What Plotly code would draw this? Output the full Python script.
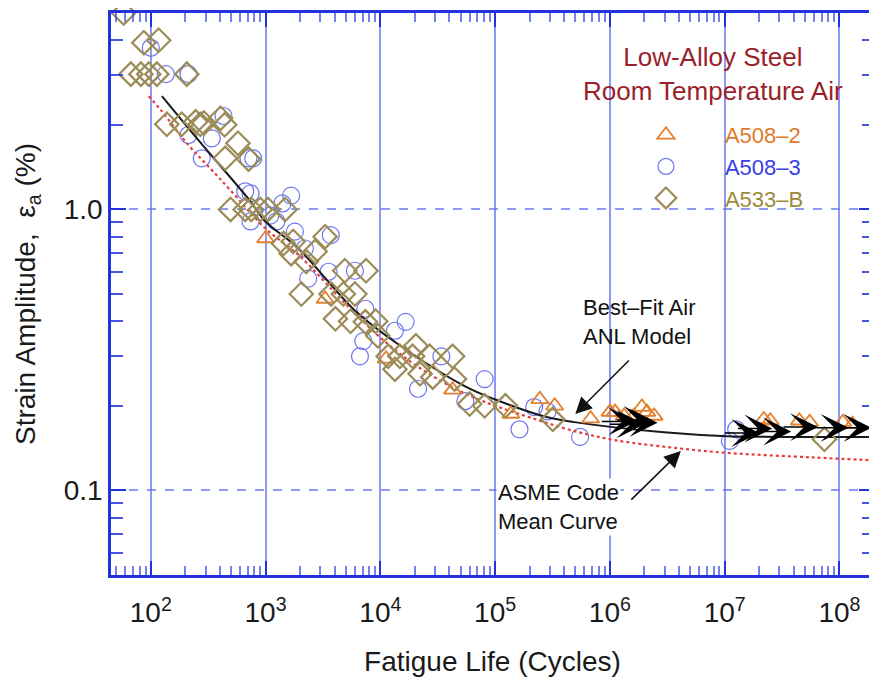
import numpy as np
import plotly.graph_objects as go

# ---------------- data ----------------
# A508-2 (triangles)
N_A5082 = [1000, 3300, 11200, 42600, 137000, 245000, 330000, 680000, 1.0e6, 1.11e6,
           1.33e6, 1.62e6, 1.9e6, 2.1e6, 2.43e6, 2.19e7, 2.5e7, 4.47e7, 5.5e7, 1.07e8, 1.3e8]
E_A5082 = [0.788, 0.48, 0.294, 0.228, 0.187, 0.211, 0.20, 0.18, 0.19, 0.19,
           0.184, 0.184, 0.198, 0.19, 0.184, 0.179, 0.177, 0.177, 0.175, 0.175, 0.172]

# A508-3 (circles)
N_A5083 = [71, 100, 135, 213, 213, 340, 278, 430, 710, 780,
           665, 740, 1670, 740, 1240, 1800, 1400, 1100, 3700, 2200,
           2350, 3540, 6000, 7400, 7100, 6640, 16600, 13400, 21300, 34000,
           81000, 55000, 163000, 219000, 286000, 550000, 1.11e7, 1.26e7]
E_A5083 = [5.1, 3.76, 3.03, 3.03, 1.84, 1.79, 1.52, 2.15, 1.52, 1.52,
           1.16, 1.14, 1.12, 0.906, 0.906, 0.834, 1.05, 0.95, 0.81, 0.726,
           0.567, 0.60, 0.605, 0.443, 0.34, 0.30, 0.398, 0.37, 0.23, 0.30,
           0.249, 0.208, 0.165, 0.198, 0.191, 0.155, 0.15, 0.165]

# A533-B (diamonds)
N_A533B = [58, 87, 117, 67, 82, 96, 113, 206, 138, 186,
           246, 270, 290, 405, 440, 575, 445, 710, 495, 665,
           750, 900, 1050, 1480, 1430, 1740, 3300, 2700, 2260, 1670,
           4900, 7500, 2050, 3720, 4760, 6000, 4060, 5500, 7400, 9100,
           9500, 11700, 14800, 19100, 13400, 20400, 26900, 42600, 22200, 28600,
           44300, 60000, 81000, 123000, 318000, 7.4e7]
E_A533B = [5.0, 3.92, 4.0, 3.03, 3.03, 3.03, 3.03, 3.03, 2.01, 2.01,
           2.05, 2.01, 2.03, 2.11, 2.0, 1.72, 1.52, 1.51, 1.0, 1.0,
           1.0, 1.0, 1.0, 1.0, 0.756, 0.769, 0.80, 0.708, 0.652, 0.696,
           0.605, 0.605, 0.50, 0.50, 0.50, 0.50, 0.408, 0.40, 0.398, 0.40,
           0.355, 0.30, 0.30, 0.30, 0.27, 0.327, 0.30, 0.30, 0.26, 0.253,
           0.249, 0.203, 0.20, 0.20, 0.179, 0.152]

# run-out tests (arrow tips)
N_RUNOUT = [1.7e6, 2.0e6, 2.3e6, 2.6e6, 2.0e7, 2.6e7, 3.8e7, 6.5e7, 1.2e8, 1.9e8]
E_RUNOUT = [0.176, 0.172, 0.178, 0.174, 0.160, 0.166, 0.162, 0.168, 0.167, 0.167]

# Best-fit air ANL model curve
N_ANL = [125, 261, 709, 1000, 1930, 6030, 14200, 54300, 99000, 286000, 490000, 2.95e6, 1.05e7, 2e8]
E_ANL = [2.53, 1.76, 1.09, 0.906, 0.726, 0.436, 0.332, 0.235, 0.211, 0.182, 0.175, 0.161, 0.156, 0.155]

# ASME Code mean curve
N_ASME = [96, 122, 214, 330, 494, 1000, 2000, 5000, 1e4, 2e4, 5e4, 1e5, 2e5, 4.3e5,
          1.1e6, 4.1e6, 1.05e7, 5.9e7, 2e8]
E_ASME = [2.53, 2.26, 1.69, 1.40, 1.17, 0.855, 0.68, 0.46, 0.35, 0.28, 0.225, 0.2, 0.182, 0.165,
          0.151, 0.141, 0.136, 0.131, 0.128]

X_TICKS = [1e2, 1e3, 1e4, 1e5, 1e6, 1e7, 1e8]
X_TICKTEXT = ["10<sup>2</sup>", "10<sup>3</sup>", "10<sup>4</sup>", "10<sup>5</sup>",
              "10<sup>6</sup>", "10<sup>7</sup>", "10<sup>8</sup>"]
Y_TICKS = [0.1, 1.0]
Y_TICKTEXT = ["0.1", "1.0"]

# ---------------- styling ----------------
FONT = "Arial, Liberation Sans, sans-serif"
AXIS_BLUE = "#2233dd"
GRID_BLUE = "rgba(95,110,240,0.7)"
C_TRI = "#e5802e"
C_CIR = "#6c76f0"
C_DIA = "#9c8c58"

fig = go.Figure()

fig.add_trace(go.Scatter(
    x=N_A5083, y=E_A5083, mode="markers", name="<span style='color:#3a3ce8'>A508–3</span>",
    legendrank=2, cliponaxis=False,
    marker=dict(symbol="circle-open", size=17, color=C_CIR, line=dict(width=1.2))))

fig.add_trace(go.Scatter(
    x=N_ASME, y=E_ASME, mode="lines", showlegend=False, line_shape="spline",
    line=dict(color="#ea3b3b", width=2.2, dash="dot")))

fig.add_trace(go.Scatter(
    x=N_ANL, y=E_ANL, mode="lines", showlegend=False, line_shape="spline",
    line=dict(color="#1a1a1a", width=2)))

fig.add_trace(go.Scatter(
    x=N_A5082, y=E_A5082, mode="markers", name="<span style='color:#e07a28'>A508–2</span>",
    legendrank=1, cliponaxis=False,
    marker=dict(symbol="triangle-up-open", size=15, color=C_TRI, line=dict(width=1.8))))

fig.add_trace(go.Scatter(
    x=N_A533B, y=E_A533B, mode="markers", name="<span style='color:#9b8a3a'>A533–B</span>",
    legendrank=3, cliponaxis=False,
    marker=dict(symbol="diamond-open", size=18, color=C_DIA, line=dict(width=2.2))))

minor_x = [m * 10 ** k for k in range(1, 9) for m in range(2, 10) if 45 <= m * 10 ** k <= 2e8]
minor_y = [m * 10 ** k for k in (-2, -1, 0) for m in range(2, 10) if 0.05 <= m * 10 ** k <= 5]

fig.update_xaxes(
    type="log", range=[np.log10(45), np.log10(2e8)],
    tickvals=X_TICKS, ticktext=X_TICKTEXT,
    ticks="inside", ticklen=14, tickwidth=2, tickcolor=AXIS_BLUE,
    showline=True, linecolor=AXIS_BLUE, linewidth=2.5, mirror="ticks",
    showgrid=True, gridcolor=GRID_BLUE, gridwidth=2,
    zeroline=False, ticklabelstandoff=11,
    tickfont=dict(family=FONT, size=28, color="#1a1a1a"),
    minor=dict(tickvals=minor_x, ticks="inside", ticklen=9, tickwidth=1.5,
               tickcolor="rgba(60,75,230,0.7)", showgrid=False),
    title=dict(text="Fatigue Life (Cycles)", standoff=28,
               font=dict(family=FONT, size=28, color="#1a1a1a")),
)
fig.update_yaxes(
    type="log", range=[np.log10(0.05), np.log10(5)],
    tickvals=Y_TICKS, ticktext=Y_TICKTEXT,
    ticks="inside", ticklen=15, tickwidth=2, tickcolor=AXIS_BLUE,
    showline=True, linecolor=AXIS_BLUE, linewidth=2.5, mirror="ticks",
    showgrid=True, gridcolor=GRID_BLUE, gridwidth=2, griddash="dash",
    zeroline=False, ticklabelstandoff=0,
    tickfont=dict(family=FONT, size=28, color="#1a1a1a"),
    minor=dict(tickvals=minor_y, ticks="inside", ticklen=12, tickwidth=2,
               tickcolor="rgba(40,55,225,0.85)", showgrid=False),
    title=dict(text="Strain Amplitude,  ε<sub>a</sub> (%)", standoff=20,
               font=dict(family=FONT, size=28, color="#1a1a1a")),
)

annotations = [
    dict(text="Low-Alloy Steel<br>Room Temperature Air", xref="paper", yref="paper",
         x=0.7885, y=0.8915, xanchor="center", yanchor="middle", showarrow=False,
         font=dict(family=FONT, size=26, color="#9a1f2a")),
    dict(text="Best–Fit Air<br>ANL Model", xref="paper", yref="paper",
         x=0.616, y=0.450, xanchor="left", yanchor="middle", align="left", showarrow=False,
         font=dict(family=FONT, size=22, color="#111111")),
    dict(text="ASME Code<br>Mean Curve", xref="paper", yref="paper",
         x=0.504, y=0.121, xanchor="left", yanchor="middle", align="left", showarrow=False,
         bgcolor="#ffffff",
         font=dict(family=FONT, size=22, color="#111111")),
    dict(text="", xref="x", yref="y", x=np.log10(5.0e5), y=np.log10(0.187),
         ax=55, ay=-55, showarrow=True, arrowhead=2, arrowsize=2.2, arrowwidth=1.5,
         arrowcolor="#111111"),
    dict(text="", xref="x", yref="y", x=np.log10(4.15e6), y=np.log10(0.138),
         ax=-51, ay=50, showarrow=True, arrowhead=2, arrowsize=2.2, arrowwidth=1.5,
         arrowcolor="#111111"),
]
# run-out arrows, one per run-out test
for n, e in zip(N_RUNOUT, E_RUNOUT):
    annotations.append(dict(text="", xref="x", yref="y", x=np.log10(n), y=np.log10(e),
                            ax=-36, ay=0, showarrow=True, arrowhead=3, arrowsize=3.1,
                            arrowwidth=1.5, arrowcolor="#000000"))

# The page body has an 8 px default margin; the figure is sized so that the
# plot area lands where the reference's does inside the 877x677 window.
fig.update_layout(
    width=869, height=669,
    margin=dict(l=103, r=0, t=5, b=102),
    paper_bgcolor="white", plot_bgcolor="white",
    font=dict(family=FONT, size=22, color="#111111"),
    annotations=annotations,
    legend=dict(x=0.650, y=0.8203, xanchor="left", yanchor="top",
                bgcolor="rgba(0,0,0,0)", font=dict(family=FONT, size=22),
                itemwidth=108, tracegroupgap=0),
)

fig.write_html("out.html")
